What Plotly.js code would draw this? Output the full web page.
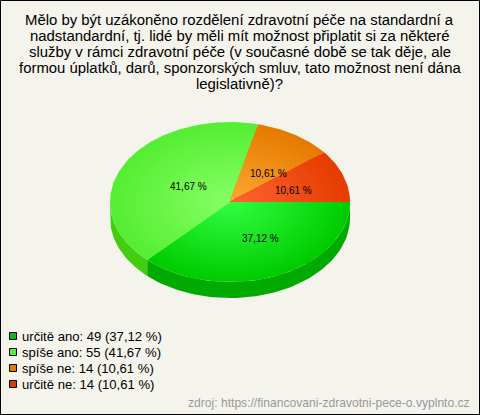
<!DOCTYPE html>
<html><head><meta charset="utf-8">
<script src="https://cdn.plot.ly/plotly-3.0.0.min.js"></script>
<style>html,body{margin:0;padding:0;background:#f4f3ec}#c{width:480px;height:415px}</style>
</head><body><div id="c"></div>
<script>
const categories = ["určitě ano", "spíše ano", "spíše ne", "určitě ne"];
const counts = [49, 55, 14, 14];
const titleLines = [
  "Mělo by být uzákoněno rozdělení zdravotní péče na standardní a",
  "nadstandardní, tj. lidé by měli mít možnost připlatit si za některé",
  "služby v rámci zdravotní péče (v současné době se tak děje, ale",
  "formou úplatků, darů, sponzorských smluv, tato možnost není dána",
  "legislativně)?"
];
const sourceText = "zdroj: https://financovani-zdravotni-pece-o.vyplnto.cz";

const centerColors = [[51,255,68],[136,255,102],[255,170,51],[255,102,51]];
const edgeColors = [[0,204,0],[85,238,51],[230,122,0],[230,60,0]];
const sideColors = ["#00aa00","#44cc11","#c06000","#c03000"];
const swatchColors = ["#11bb11","#55ee33","#e67a00","#dd3c00"];
const labelPos = [[260,238],[188,186],[268,173],[293,190]];

const cx=230, cy=202, rx=120, ry=80, depth=16, rings=24;
const total = counts.reduce((a,b)=>a+b,0);
const fmt = v => (v/total*100).toFixed(2).replace(".",",")+" %";

let start=0;
const slices = counts.map(v=>{const s=start; start+=v/total*2*Math.PI; return [s,start];});
const arc=(a,b,n)=>Array.from({length:n+1},(_,i)=>a+(b-a)*i/n);
const traces=[];
const fillTrace=(x,y,color)=>({type:"scatter",mode:"lines",x,y,fill:"toself",fillcolor:color,
  line:{width:0,color},hoverinfo:"skip",showlegend:false});

// side wall: visible only for the front half
slices.forEach(([a,b],i)=>{
  const lo=a, hi=Math.min(b,Math.PI);
  if(hi<=lo) return;
  const t=arc(lo,hi,60);
  const x=t.map(q=>cx+rx*Math.cos(q)), y=t.map(q=>cy+ry*Math.sin(q));
  const xs=x.concat(x.slice().reverse()), ys=y.concat(y.slice().reverse().map(v=>v+depth));
  traces.push(fillTrace(xs,ys,sideColors[i]));
});
// top surface: concentric scaled sectors build a radial gradient
slices.forEach(([a,b],i)=>{
  const t=arc(a,b,Math.max(20,Math.round((b-a)*40)));
  for(let k=rings;k>=1;k--){
    const f=k/rings, c=centerColors[i].map((v,j)=>Math.round(v+(edgeColors[i][j]-v)*f));
    const x=[cx].concat(t.map(q=>cx+f*rx*Math.cos(q)),[cx]);
    const y=[cy].concat(t.map(q=>cy+f*ry*Math.sin(q)),[cy]);
    traces.push(fillTrace(x,y,`rgb(${c.join(",")})`));
  }
});
// legend swatches
const legendY=i=>336+i*16;
traces.push({type:"scatter",mode:"markers",x:categories.map(()=>13),y:categories.map((c,i)=>legendY(i)),
  marker:{symbol:"square",size:7,color:swatchColors,line:{color:"#000",width:1}},hoverinfo:"skip",showlegend:false});

const annotations=[];
const txt=(x,y,text,size,color,anchor)=>({x,y,xref:"x",yref:"y",text,showarrow:false,xanchor:anchor,yanchor:"middle",
  align:anchor,font:{family:"Liberation Sans, Arial, sans-serif",size,color}});
titleLines.forEach((l,i)=>annotations.push(txt(239.5,20+i*16,l,14.9,"#000","center")));
counts.forEach((v,i)=>{
  annotations.push(txt(labelPos[i][0],labelPos[i][1],fmt(v),10,"#000","center"));
  annotations.push(txt(20,legendY(i),`${categories[i]}: ${v} (${fmt(v)})`,13.1,"#000","left"));
});
annotations.push(txt(472,403,sourceText,12.1,"#999","right"));

Plotly.newPlot("c",traces,{
  width:480,height:415,margin:{l:0,r:0,t:0,b:0},
  paper_bgcolor:"#f4f3ec",plot_bgcolor:"#f4f3ec",showlegend:false,
  xaxis:{range:[0,480],visible:false,fixedrange:true},
  yaxis:{range:[415,0],visible:false,fixedrange:true},
  annotations,
  shapes:[{type:"rect",xref:"x",yref:"y",x0:0.5,y0:0.5,x1:479.5,y1:414.5,line:{color:"#000",width:1},fillcolor:"rgba(0,0,0,0)"}]
},{displayModeBar:false,staticPlot:true});
</script></body></html>
